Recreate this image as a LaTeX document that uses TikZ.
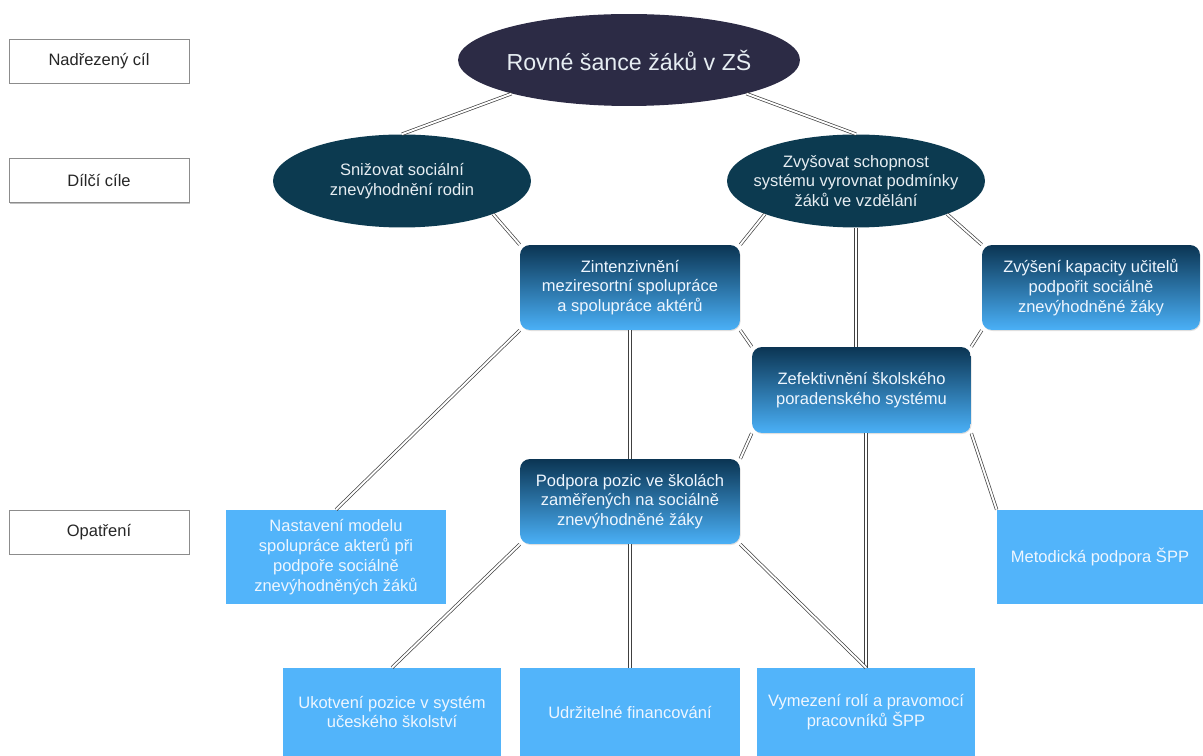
\documentclass[tikz,border=0pt]{standalone}
\usepackage{fontspec}
\setmainfont{Liberation Sans}
\usetikzlibrary{shapes.geometric,shadows}

\begin{document}
\begin{tikzpicture}[x=0.02cm,y=-0.02cm,
    font=\fontsize{9.4}{11.3}\selectfont,
    levelBox/.style={draw=black!45, fill=white, text=black!85, minimum width=3.6cm, minimum height=0.88cm,
        drop shadow={shadow xshift=0.7pt, shadow yshift=-0.7pt, fill=black!35, opacity=0.7}},
    mainGoal/.style={ellipse, fill=mainColour, text=ellipseText, inner xsep=-2cm, inner ysep=-0.8cm,
        minimum width=6.84cm, minimum height=1.84cm, font=\fontsize{13.2}{15}\selectfont},
    subGoal/.style={ellipse, fill=subColour, text=ellipseText, align=center, inner xsep=-2cm, inner ysep=-0.8cm,
        minimum width=5.16cm, minimum height=1.86cm},
    measureBox/.style={rectangle, rounded corners=0.2cm, top color=boxTop, bottom color=boxBottom, text=boxText,
        align=center, minimum width=4.4cm, minimum height=1.7cm,
        drop shadow={shadow xshift=0.4pt, shadow yshift=-0.6pt, opacity=0.25}},
    actionBox/.style={rectangle, fill=actionColour, text=boxText, align=center, minimum width=4.4cm, minimum height=1.88cm},
    link/.style={draw=black!75, line width=0.4pt, double=white, double distance=1.1pt}
]
    % Define colours
    \definecolor{mainColour}{HTML}{2C2B45}
    \definecolor{subColour}{HTML}{0C3A50}
    \definecolor{ellipseText}{HTML}{E6EDF2}
    \definecolor{boxTop}{HTML}{0B3553}
    \definecolor{boxBottom}{HTML}{4AB0F7}
    \definecolor{boxText}{HTML}{EEF6FF}
    \definecolor{actionColour}{HTML}{52B4FA}

    % Fix the page size
    \useasboundingbox (0,0) rectangle (1203,756);

    % Level labels
    \node[levelBox] (topLevel) at (99,61) {Nadřezený cíl};
    \node[levelBox] (subLevel) at (99,180.5) {Dílčí cíle};
    \node[levelBox] (actLevel) at (99,532) {Opatření};

    % Goals
    \node[mainGoal] (goal) at (629,60) {Rovné šance žáků v ZŠ};
    \node[subGoal] (reduce) at (402,181) {Snižovat sociální\\znevýhodnění rodin};
    \node[subGoal] (raise) at (856,181) {Zvyšovat schopnost\\systému vyrovnat podmínky\\žáků ve vzdělání};

    % Measures
    \node[measureBox] (intensify) at (630,287.5) {Zintenzivnění\\meziresortní spolupráce\\a spolupráce aktérů};
    \node[measureBox, minimum width=4.36cm] (capacity) at (1091,287.5) {Zvýšení kapacity učitelů\\podpořit sociálně\\znevýhodněné žáky};
    \node[measureBox, minimum width=4.38cm, minimum height=1.72cm] (counselling) at (861.5,390) {Zefektivnění školského\\poradenského systému};
    \node[measureBox] (positions) at (630,501.5) {Podpora pozic ve školách\\zaměřených na sociálně\\znevýhodněné žáky};

    % Actions
    \node[actionBox] (model) at (336,557) {Nastavení modelu\\spolupráce akterů při\\podpoře sociálně\\znevýhodněných žáků};
    \node[actionBox, minimum width=4.12cm] (method) at (1100,557) {Metodická podpora ŠPP};
    \node[actionBox, minimum width=4.36cm, minimum height=1.76cm] (anchor) at (392,712) {Ukotvení pozice v systém\\učeského školství};
    \node[actionBox, minimum height=1.76cm] (funding) at (630,712) {Udržitelné financování};
    \node[actionBox, minimum width=4.36cm, minimum height=1.76cm] (roles) at (866,712) {Vymezení rolí a pravomocí\\pracovníků ŠPP};

    % Draw the connectors
    \draw[link] (goal.196) -- (reduce.north);
    \draw[link] (goal.344) -- (raise.north);
    \draw[link] (reduce.340) -- (intensify.north west);
    \draw[link] (raise.200) -- (intensify.north east);
    \draw[link] (raise.340) -- (capacity.north west);
    \draw[link] (raise.south) -- (raise.south |- counselling.north);
    \draw[link] (intensify.south east) -- (counselling.north west);
    \draw[link] (capacity.south west) -- (counselling.north east);
    \draw[link] (intensify.south west) -- (model.north);
    \draw[link] (intensify.south) -- (positions.north);
    \draw[link] (counselling.south west) -- (positions.north east);
    \draw[link] (counselling.south east) -- (method.north west);
    \draw[link] (roles.north |- counselling.south) -- (roles.north);
    \draw[link] (positions.south west) -- (anchor.north);
    \draw[link] (positions.south) -- (funding.north);
    \draw[link] (positions.south east) -- (roles.north);

\end{tikzpicture}
\end{document}
